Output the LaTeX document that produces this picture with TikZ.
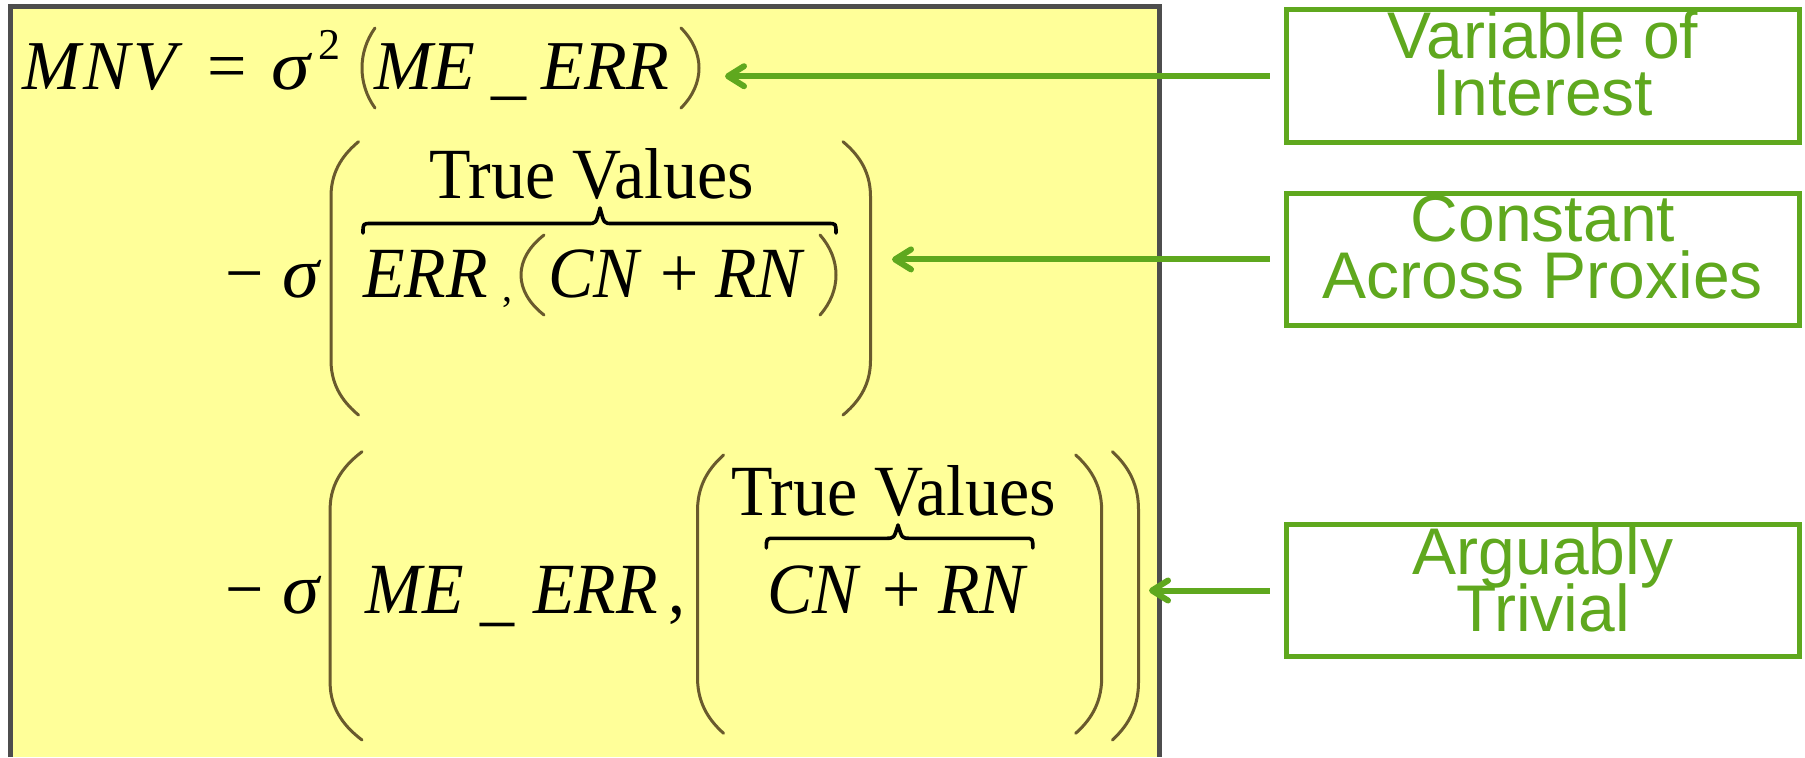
\documentclass[tikz,border=0pt]{standalone}
\usepackage{graphicx}
\usepackage{fontspec}
\setmainfont{Liberation Serif}
\newfontfamily\lblfont{Liberation Sans}
\usetikzlibrary{arrows.meta}
\definecolor{ybg}{RGB}{255,255,153}
\definecolor{bgray}{RGB}{77,77,77}
\definecolor{lgreen}{RGB}{95,168,30}
\definecolor{parcol}{RGB}{105,90,45}
\newcommand\vs[1]{\scalebox{1}[1.06]{#1}}
% small curved parens: #1 xmin, #2 xmax, #3 top, #4 bottom
\newcommand\mkLeftParen[4]{%
  \draw[parstroke] (#2,#3) .. controls ({#2-(#2-#1)/0.75},{#3+0.3*(#4-#3)}) and ({#2-(#2-#1)/0.75},{#4-0.3*(#4-#3)}) .. (#2,#4);}
\newcommand\mkRightParen[4]{%
  \draw[parstroke] (#1,#3) .. controls ({#1+(#2-#1)/0.75},{#3+0.3*(#4-#3)}) and ({#1+(#2-#1)/0.75},{#4-0.3*(#4-#3)}) .. (#1,#4);}
% tall parens with straight stems: #1 xmin, #2 xmax, #3 top, #4 bottom
\newcommand\mkBigLeft[4]{%
  \draw[parstroke] (#2,#3) .. controls ({#2-0.45*(#2-#1)},{#3+0.04*(#4-#3)}) and ({#1+1.5},{#3+0.1*(#4-#3)}) .. ({#1+1.5},{#3+0.2*(#4-#3)})
    -- ({#1+1.5},{#4-0.2*(#4-#3)}) .. controls ({#1+1.5},{#4-0.1*(#4-#3)}) and ({#2-0.45*(#2-#1)},{#4-0.04*(#4-#3)}) .. (#2,#4);}
\newcommand\mkBigRight[4]{%
  \draw[parstroke] (#1,#3) .. controls ({#1+0.45*(#2-#1)},{#3+0.04*(#4-#3)}) and ({#2-1.5},{#3+0.1*(#4-#3)}) .. ({#2-1.5},{#3+0.2*(#4-#3)})
    -- ({#2-1.5},{#4-0.2*(#4-#3)}) .. controls ({#2-1.5},{#4-0.1*(#4-#3)}) and ({#1+0.45*(#2-#1)},{#4-0.04*(#4-#3)}) .. (#1,#4);}
% overbrace: #1 x1, #2 x2, #3 xtip, #4 y line, #5 y tip, #6 y hook
\newcommand\mkOverbrace[6]{%
  \draw[bracestroke] (#1,#6) .. controls (#1,#4) .. ({#1+8},#4) -- ({#3-12},#4) .. controls ({#3-4},#4) .. (#3,#5) .. controls ({#3+4},#4) .. ({#3+12},#4) -- ({#2-8},#4) .. controls (#2,#4) .. (#2,#6);}
\begin{document}
\begin{tikzpicture}[x=0.5pt,y=-0.5pt,
  parstroke/.style={draw=parcol,line width=1.5pt,line cap=round},
  bracestroke/.style={draw=black,line width=1.8pt,line cap=round,line join=round},
  mbase/.style={inner sep=0pt,anchor=base west},
  rm1/.style={mbase,font=\fontsize{35}{42}\selectfont},
  it1/.style={mbase,font=\fontsize{35}{42}\selectfont\itshape},
  sup1/.style={mbase,font=\fontsize{22}{26}\selectfont},
  rm/.style={mbase,font=\fontsize{34}{40}\selectfont},
  it/.style={mbase,font=\fontsize{34}{40}\selectfont\itshape},
  subc/.style={mbase,font=\fontsize{20}{24}\selectfont},
  gbox/.style={draw=lgreen,line width=2.5pt,inner sep=0pt,minimum width=256.75pt,minimum height=66.25pt},
  lbl/.style={font={\lblfont\fontsize{33}{28.3}\selectfont\lineskiplimit=-100pt},text=lgreen,align=center,inner sep=0pt,anchor=north},
  garrow/.style={draw=lgreen,line width=3pt,shorten <=7pt,-{Straight Barb[round,length=8pt,width=10pt]}}
]
\useasboundingbox (0,0) rectangle (1805,757);
\fill[white] (0,0) rectangle (1805,757);
% equation panel
\fill[ybg] (10.7,6.7) rectangle (1159.7,757);
\draw[bgray,line width=2.75pt] (10.7,757) -- (10.7,6.7) -- (1159.7,6.7) -- (1159.7,757);

% line 1
\node[it1] (mnv) at (22,89) {M\kern1.5pt N\kern1.5pt V};
\node[rm1] (eq1) at (207,89) {=};
\node[it1] (sig1) at (271,89) {\scalebox{1.12}[1]{σ}};
\node[sup1] (two1) at (318,59) {2};
\mkLeftParen{362}{375}{28}{108}
\node[it1] (me1) at (374,89) {ME};
\node[rm1] (us1) at (491,91) {\_};
\node[it1] (err1) at (541,89) {ERR};
\mkRightParen{681}{699}{28}{108}
\coordinate (tip1) at (725,76);

% line 2
\node[rm] (min2) at (225,297) {\vs{−}};
\node[it] (sig2) at (282,297) {\vs{\scalebox{1.1}[1]{σ}}};
\mkBigLeft{329.5}{358.5}{141.7}{415}
\node[rm] (tv2) at (429,198.3) {\vs{True Values}};
\mkOverbrace{363}{836}{600}{223.5}{208}{233}
\node[it] (err2) at (363,297) {\vs{ERR}};
\node[subc] (com2) at (502,301) {,};
\mkLeftParen{521}{544}{235}{315}
\node[it] (cn2) at (548,297) {\vs{CN}};
\node[rm] (pl2) at (660,297) {\vs{+}};
\node[it] (rn2) at (715,297) {\vs{RN}};
\mkRightParen{820}{836}{235}{315}
\mkBigRight{843}{872}{141.7}{415}
\coordinate (tip2) at (892,259);

% line 3
\node[rm] (min3) at (225,613) {\vs{−}};
\node[it] (sig3) at (282,613) {\vs{\scalebox{1.1}[1]{σ}}};
\mkBigLeft{328.6}{362}{451.7}{740}
\node[it] (me3) at (365,613) {\vs{ME}};
\node[rm] (us3) at (480,617) {\vs{\_}};
\node[it] (err3) at (533,613) {\vs{ERR}};
\node[rm] (com3) at (668,613) {\vs{,}};
\mkBigLeft{696}{723.6}{455}{733.3}
\node[rm] (tv3) at (731,515) {\vs{True Values}};
\mkOverbrace{766.4}{1032.8}{898}{538.3}{525}{548}
\node[it] (cn3) at (767,613) {\vs{CN}};
\node[rm] (pl3) at (882,613) {\vs{+}};
\node[it] (rn3) at (938,613) {\vs{RN}};
\mkBigRight{1075.7}{1103.2}{455}{733.3}
\mkBigRight{1112.4}{1140}{451.7}{740}
\coordinate (tip3) at (1149,590);

% labels
\node[gbox] (vbox) at (1542.75,76.2) {};
\node[gbox] (cbox) at (1542.75,259.4) {};
\node[gbox] (abox) at (1542.75,590.5) {};
\node[lbl] (vtext) at (1543,10.7) {Variable of\\Interest};
\node[lbl] (ctext) at (1543,195) {Constant\\Across Proxies};
\node[lbl] (atext) at (1543,526.3) {Arguably\\Trivial};

% arrows
\draw[garrow] (vbox.west) -- (vbox.west -| tip1);
\draw[garrow] (cbox.west) -- (cbox.west -| tip2);
\draw[garrow] (abox.west) -- (abox.west -| tip3);
\end{tikzpicture}
\end{document}
